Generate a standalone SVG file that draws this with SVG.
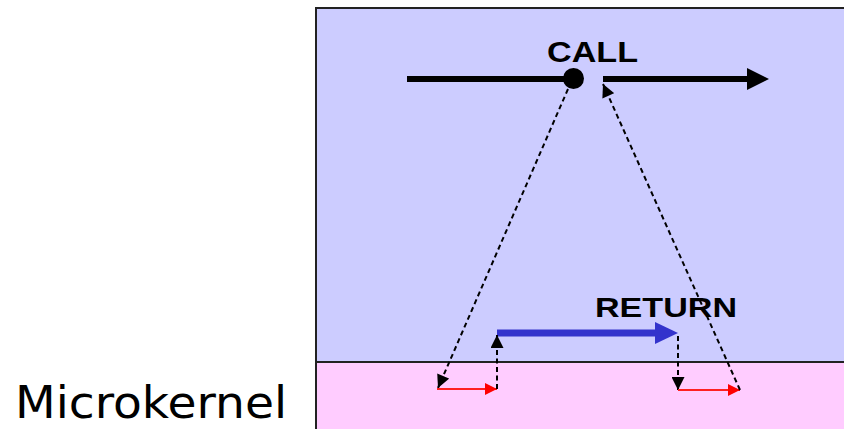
<svg xmlns="http://www.w3.org/2000/svg" width="844" height="429" viewBox="0 0 844 429">
  <defs>
    <style>
      .label { font-family: "Liberation Sans", Arial, sans-serif; font-weight: bold; fill: #000; }
      .dash { fill: none; stroke: #000; stroke-width: 2; stroke-dasharray: 5 3.5; }
      .thick { fill: none; stroke: #000; stroke-width: 6; }
      .flow { fill: none; stroke: #3333cc; stroke-width: 7; }
      .hop { fill: none; stroke: #ff2020; stroke-width: 2; }
    </style>
    <marker id="headBlack" viewBox="0 0 10 10" refX="10" refY="5" markerWidth="14" markerHeight="13" markerUnits="userSpaceOnUse" orient="auto">
      <path d="M0,0 L10,5 L0,10 z" fill="#000"/>
    </marker>
    <marker id="headRed" viewBox="0 0 10 10" refX="10" refY="5" markerWidth="16" markerHeight="12" markerUnits="userSpaceOnUse" orient="auto">
      <path d="M0,0 L10,5 L0,10 z" fill="#ff0000"/>
    </marker>
  </defs>

  <rect width="844" height="429" fill="#ffffff"/>

  <!-- user space and kernel space -->
  <g id="userspace">
    <rect x="316" y="8" width="540" height="354" fill="#ccccff" stroke="#222" stroke-width="2"/>
  </g>
  <g id="kernelspace">
    <rect x="316" y="362" width="540" height="80" fill="#ffccff" stroke="#222" stroke-width="2"/>
  </g>

  <g id="microkernel-label">
    <text x="15" y="418" font-family="'DejaVu Sans', Verdana, sans-serif" font-size="45" textLength="272" lengthAdjust="spacingAndGlyphs" fill="#000">Microkernel</text>
  </g>

  <g id="call">
    <text class="label" x="547" y="62" font-size="29" textLength="91" lengthAdjust="spacingAndGlyphs">CALL</text>
    <circle cx="573.5" cy="78.5" r="10.5" fill="#000"/>
  </g>

  <g id="return">
    <text class="label" x="595" y="317" font-size="28" textLength="142" lengthAdjust="spacingAndGlyphs">RETURN</text>
  </g>

  <g id="connectors">
    <!-- caller thread: before and after the call -->
    <line class="thick" x1="407" y1="79" x2="566" y2="79"/>
    <path d="M603,79 L752,79" class="thick"/>
    <path d="M747,68 L769,79 L747,90 z" fill="#000"/>

    <!-- server thread -->
    <line class="flow" x1="497" y1="333" x2="658" y2="333"/>
    <path d="M655,322 L678,333 L655,344 z" fill="#3333cc"/>

    <!-- trap into the kernel -->
    <line class="dash" x1="568" y1="89" x2="438" y2="388" marker-end="url(#headBlack)"/>
    <line class="hop" x1="437" y1="389" x2="497" y2="389" marker-end="url(#headRed)"/>
    <line class="dash" x1="497" y1="389" x2="497" y2="335" marker-end="url(#headBlack)"/>

    <!-- return through the kernel -->
    <line class="dash" x1="678" y1="336" x2="678" y2="390" marker-end="url(#headBlack)"/>
    <line class="hop" x1="678" y1="390" x2="740" y2="390" marker-end="url(#headRed)"/>
    <line class="dash" x1="740" y1="390" x2="603" y2="84" marker-end="url(#headBlack)"/>
  </g>
</svg>
